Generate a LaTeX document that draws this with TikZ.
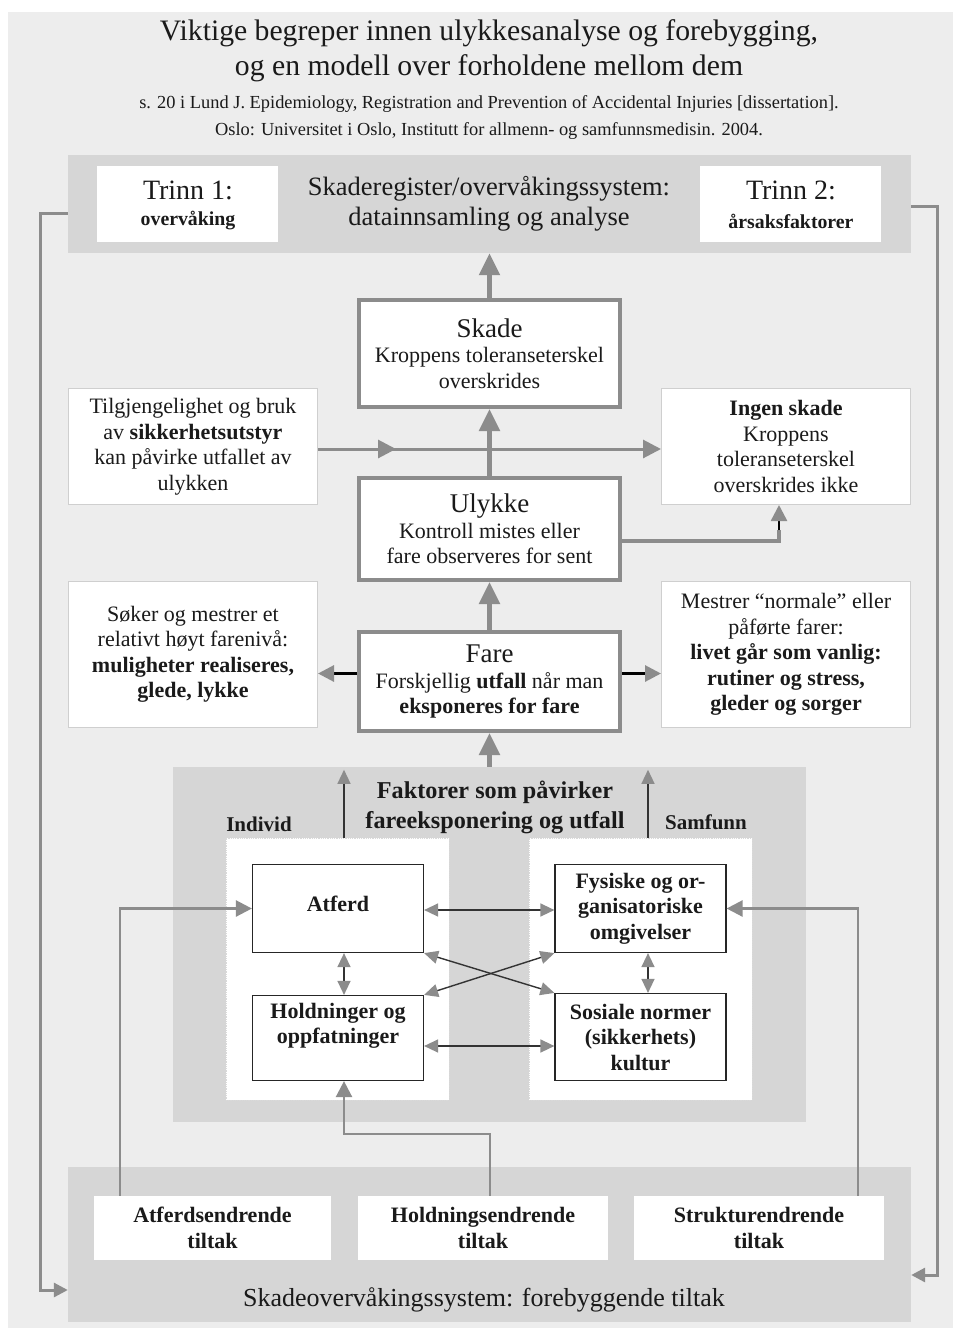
\documentclass[tikz,border=0pt]{standalone}
\usepackage{fontspec}
\setmainfont{Liberation Serif}
\usetikzlibrary{arrows.meta,calc}
\definecolor{bgc}{HTML}{EDEDED}
\definecolor{bandc}{HTML}{D6D6D6}
\definecolor{argray}{HTML}{8C8C8C}
\definecolor{txt}{HTML}{1A1A1A}
\definecolor{sidebd}{HTML}{CFCFCF}
\newcommand{\fsTitle}{\fontsize{29.7}{35}\selectfont}
\newcommand{\fsCite}{\fontsize{18.4}{27}\selectfont}
\newcommand{\fsTop}{\fontsize{26.5}{30}\selectfont}
\newcommand{\fsTrinn}{\fontsize{28}{31}\selectfont}
\newcommand{\fsSmB}{\fontsize{19.8}{24}\selectfont\bfseries}
\newcommand{\fsHead}{\fontsize{27}{27}\selectfont}
\newcommand{\fsBody}{\fontsize{22}{25.5}\selectfont}
\newcommand{\fsBodyB}{\fontsize{22}{25.5}\selectfont\bfseries}
\newcommand{\fsFak}{\fontsize{24.2}{30}\selectfont}
\newcommand{\fsInd}{\fontsize{21}{25}\selectfont\bfseries}
\newcommand{\fsBot}{\fontsize{26}{28}\selectfont}
\tikzset{
  mainbox/.style={draw=argray, line width=4pt, fill=white, minimum width=261pt, align=center, inner sep=0pt, font=\fsBody, text=txt},
  sidebox/.style={draw=sidebd, line width=1pt, fill=white, minimum width=249pt, align=center, inner sep=0pt, font=\fsBody, text=txt},
  whitebox/.style={fill=white, align=center, inner sep=0pt, text=txt},
  factbox/.style={draw=black!85, line width=1.2pt, fill=white, minimum width=171pt, align=center, inner sep=0pt, font=\fsBodyB, text=txt},
  panel/.style={fill=white, draw=black!15, densely dotted, line width=0.8pt, minimum width=223pt, minimum height=262pt, inner sep=0pt},
  band/.style={fill=bandc, inner sep=0pt},
  thickarrow/.style={draw=argray, line width=5pt, -{Triangle[length=22pt,width=20pt]}},
  midarrow/.style={draw=argray, line width=3pt, -{Triangle[length=18pt,width=18pt]}},
  fbarrow/.style={draw=argray, line width=3pt, line join=miter, -{Triangle[length=14pt,width=14pt]}},
  inarrow/.style={draw=argray, line width=2.5pt, line join=miter, -{Triangle[length=16pt,width=16pt]}},
  dblarrow/.style={draw=black!80, line width=1.4pt, {Triangle[length=14pt,width=13pt,color=argray]}-{Triangle[length=14pt,width=13pt,color=argray]}},
  uparrow/.style={draw=black!80, line width=1.4pt, -{Triangle[length=14pt,width=13pt,color=argray]}},
  label/.style={text=txt, align=center, inner sep=0pt}
}
\begin{document}
\begin{tikzpicture}[x=1pt,y=-1pt]
\useasboundingbox (0,0) rectangle (961,1331);
\fill[white] (0,0) rectangle (961,1331);
\fill[bgc] (8,12) rectangle (953,1328);

% title
\node[label, font=\fsTitle] (title1) at (489,33) {Viktige begreper innen ulykkesanalyse og forebygging,};
\node[label, font=\fsTitle] (title2) at (489,68) {og en modell over forholdene mellom dem};
\node[label, font=\fsCite] (cite1) at (489,104) {s. 20 i Lund J. Epidemiology, Registration and Prevention of Accidental Injuries [dissertation].};
\node[label, font=\fsCite] (cite2) at (489,131) {Oslo: Universitet i Oslo, Institutt for allmenn- og samfunnsmedisin. 2004.};

% top band
\node[band, minimum width=843pt, minimum height=98pt] (topband) at (489.5,204) {};
\node[whitebox, minimum width=181pt, minimum height=76pt] (t1) at (187.5,204) {};
\node[label, font=\fsTrinn] (t1a) at (188,190) {Trinn 1:};
\node[label, font=\fsSmB] (t1b) at (188,221) {overvåking};
\node[whitebox, minimum width=181pt, minimum height=76pt] (t2) at (790.5,204) {};
\node[label, font=\fsTrinn] (t2a) at (791,190) {Trinn 2:};
\node[label, font=\fsSmB] (t2b) at (791,221) {årsaksfaktorer};
\node[label, font=\fsTop] (toptxt) at (489,204) {Skaderegister/overvåkingssystem:\\datainnsamling og analyse};

% bottom band
\node[band, minimum width=843pt, minimum height=155pt] (botband) at (489.5,1244.5) {};
\node[whitebox, font=\fsBodyB, minimum width=237pt, minimum height=64pt] (atft) at (212.5,1228) {Atferdsendrende\\tiltak};
\node[whitebox, font=\fsBodyB, minimum width=250pt, minimum height=64pt] (holdt) at (483,1228) {Holdningsendrende\\tiltak};
\node[whitebox, font=\fsBodyB, minimum width=250pt, minimum height=64pt] (strt) at (759,1228) {Strukturendrende\\tiltak};
\node[label, font=\fsBot] (bottxt) at (484,1300) {Skadeovervåkingssystem: forebyggende tiltak};

% main chain
\node[mainbox, minimum height=107pt] (skade) at (489.5,353.5) {{\fsHead Skade}\\Kroppens toleranseterskel\\overskrides};
\node[mainbox, minimum height=102pt] (ulykke) at (489.5,529) {{\fsHead Ulykke}\\Kontroll mistes eller\\fare observeres for sent};
\node[mainbox, minimum height=99pt] (fare) at (489.5,681.5) {{\fsHead Fare}\\Forskjellig \textbf{utfall} når man\\\textbf{eksponeres for fare}};

% side boxes
\node[sidebox, minimum height=116pt] (tilg) at (193,446.5) {Tilgjengelighet og bruk\\av \textbf{sikkerhetsutstyr}\\kan påvirke utfallet av\\ulykken};
\node[sidebox, minimum height=116pt] (ingen) at (786,446.5) {\textbf{Ingen skade}\\Kroppens\\toleranseterskel\\overskrides ikke};
\node[sidebox, minimum height=146pt] (soker) at (193,654.5) {Søker og mestrer et\\relativt høyt farenivå:\\\textbf{muligheter realiseres,}\\\textbf{glede, lykke}};
\node[sidebox, minimum height=146pt] (mestrer) at (786,654.5) {Mestrer “normale” eller\\påførte farer:\\\textbf{livet går som vanlig:}\\\textbf{rutiner og stress,}\\\textbf{gleder og sorger}};

% factors
\node[band, minimum width=633pt, minimum height=355pt] (factors) at (489.5,944.5) {};
\node[label, font=\fsFak\bfseries] (faktxt) at (495,807) {Faktorer som påvirker\\fareeksponering og utfall};
\node[label, font=\fsInd] (individ) at (259,824) {Individ};
\node[label, font=\fsInd] (samfunn) at (706,822) {Samfunn};
\node[panel] (lpanel) at (337.5,969) {};
\node[panel] (rpanel) at (640.5,969) {};
\node[factbox, minimum height=88pt] (atferd) at (338,908.5) {};
\node[label, font=\fsBodyB] (atferdtxt) at ([yshift=5pt]atferd.center) {Atferd};
\node[factbox, minimum height=85pt] (hold) at (338,1038) {};
\node[label, font=\fsBodyB] (holdtxt) at ([yshift=12pt]hold.center) {Holdninger og\\oppfatninger};
\node[factbox, minimum height=88pt] (fys) at (640.5,908.5) {Fysiske og or-\\ganisatoriske\\omgivelser};
\node[factbox, minimum height=87pt] (sos) at (640.5,1037) {Sosiale normer\\(sikkerhets)\\kultur};

% main arrows
\draw[thickarrow] (skade.north) -- (topband.south);
\draw[thickarrow] (ulykke.north) -- (skade.south);
\draw[thickarrow] (fare.north) -- (ulykke.south);
\draw[thickarrow] (factors.north) -- (fare.south);

\draw[midarrow] ([yshift=-2.5pt]tilg.east) -- ++(78,0);
\draw[midarrow] ([yshift=-2.5pt]tilg.east) -- ([yshift=-2.5pt]ingen.west);

\coordinate (ubend) at (779,541);
\coordinate (ublack) at (779,530);
\draw[draw=argray, line width=4pt, line join=miter] ([yshift=-12pt]ulykke.east) -| (ublack);
\draw[draw=black, line width=2.5pt, -{Triangle[length=16pt,width=16pt,color=argray]}] (ublack) -- (ubend |- ingen.south);

\draw[draw=black, line width=3pt, -{Triangle[length=16pt,width=16pt,color=argray]}] ([yshift=8pt]fare.west) -- ([yshift=8pt]fare.west -| soker.east);
\draw[draw=black, line width=3pt, -{Triangle[length=16pt,width=16pt,color=argray]}] ([yshift=8pt]fare.east) -- ([yshift=8pt]fare.east -| mestrer.west);

% feedback loops
\coordinate (fbl1) at (40,213);
\coordinate (fbl2) at (40,1290);
\draw[fbarrow] ([yshift=-9pt]topband.west) -- (fbl1) -- (fbl2) -- (fbl2 -| botband.west);
\coordinate (fbr1) at (937,206);
\coordinate (fbr2) at (937,1275);
\draw[fbarrow] ([yshift=-2pt]topband.east) -- (fbr1) -- (fbr2) -- (fbr2 -| botband.east);

% measures to factors
\coordinate (ax) at (120,0);
\draw[inarrow] (ax |- atft.north) |- (atferd.west);
\coordinate (sx) at (858,0);
\draw[inarrow] (sx |- strt.north) |- (fys.east);
\coordinate (hbend) at (490,1134);
\draw[inarrow] ([xshift=7pt]holdt.north) -- (hbend) -| ([xshift=6pt]hold.south);

% inner arrows
\draw[dblarrow] ([yshift=-1.5pt]atferd.east) -- ([yshift=-1.5pt]fys.west);
\draw[dblarrow] ([yshift=-8pt]hold.east) -- ([yshift=-8pt]hold.east -| sos.west);
\draw[dblarrow] ([xshift=6pt]atferd.south) -- ([xshift=6pt]hold.north);
\draw[dblarrow] ([xshift=7.5pt]fys.south) -- ([xshift=7.5pt]sos.north);
\draw[dblarrow] (atferd.south east) -- (sos.north west);
\draw[dblarrow] (fys.south west) -- (hold.north east);
\draw[uparrow] ([xshift=6.5pt]lpanel.north) -- ([xshift=6.5pt,yshift=-3pt]lpanel.north |- factors.north);
\draw[uparrow] ([xshift=7.5pt]rpanel.north) -- ([xshift=7.5pt,yshift=-3pt]rpanel.north |- factors.north);
\end{tikzpicture}
\end{document}
